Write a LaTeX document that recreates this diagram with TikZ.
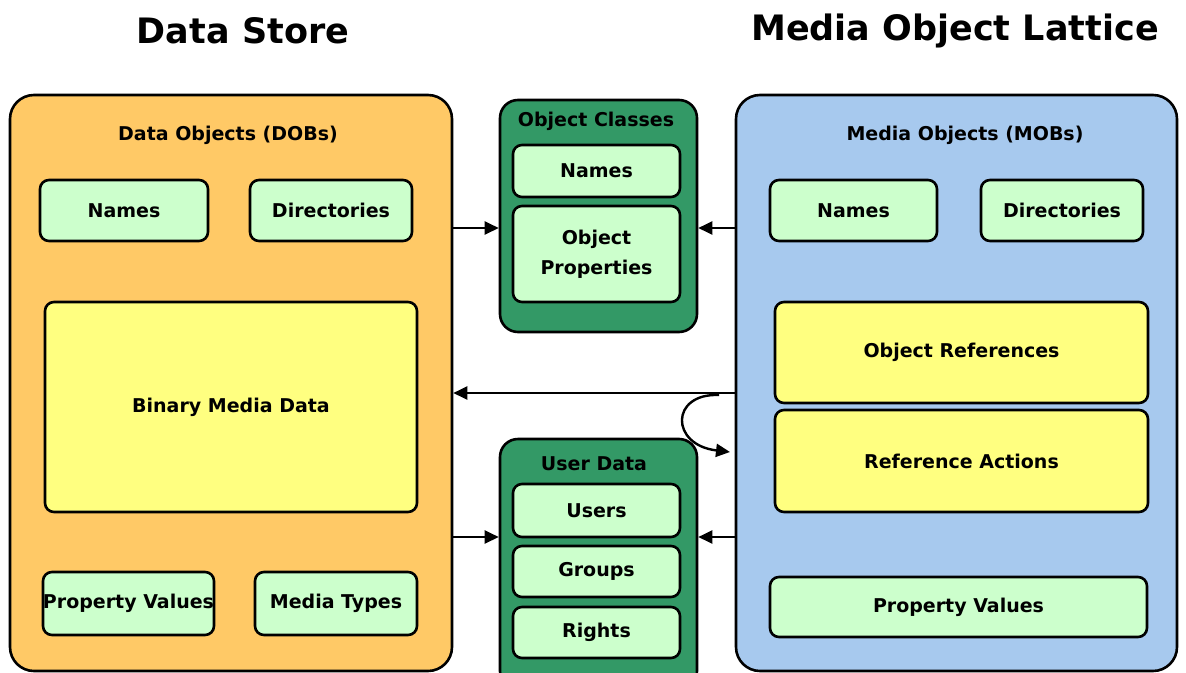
\documentclass[tikz,border=0pt]{standalone}
\usepackage{fontspec}
\setmainfont{DejaVu Sans}
\usetikzlibrary{arrows.meta}
\definecolor{orng}{HTML}{FFC966}
\definecolor{dgrn}{HTML}{339966}
\definecolor{lgrn}{HTML}{CCFFCC}
\definecolor{ylw}{HTML}{FFFF80}
\definecolor{blu}{HTML}{A7C9EE}
\tikzset{
  base/.style={draw=black, line width=2.6pt, rounded corners=9pt, inner sep=0pt, align=center,
    font=\fontsize{19}{30}\selectfont\bfseries},
  outer/.style={base, rounded corners=24pt},
  gbox/.style={base, fill=lgrn},
  ybox/.style={base, fill=ylw},
  lbl/.style={inner sep=0pt, font=\fontsize{19}{24}\selectfont\bfseries},
  ttl/.style={inner sep=0pt, font=\fontsize{35}{40}\selectfont\bfseries},
  arr/.style={line width=2.4pt, -{Triangle[length=14pt,width=13pt]}},
}
\begin{document}
\begin{tikzpicture}[x=1pt,y=-1pt]
\useasboundingbox (0,0) rectangle (1186,672);
% titles
\node[ttl] (t1) at (243,31) {Data Store};
\node[ttl] (t2) at (955,31) {Media Object Lattice};
% outer containers
\node[outer, fill=orng, minimum width=442, minimum height=576] (dob) at (231,383) {};
\node[outer, fill=blu, minimum width=441, minimum height=576] (mob) at (956.5,383) {};
\node[outer, fill=dgrn, rounded corners=18pt, minimum width=197, minimum height=232] (oc) at (598.5,216) {};
\node[outer, fill=dgrn, rounded corners=18pt, minimum width=197, minimum height=250] (ud) at (598.5,564) {};
% container labels
\node[lbl] (dobl) at (228,135) {Data Objects (DOBs)};
\node[lbl] (mobl) at (965,135) {Media Objects (MOBs)};
\node[lbl] (ocl) at (596,121) {Object Classes};
\node[lbl] (udl) at (594,464) {User Data};
% DOB contents
\node[gbox, minimum width=168, minimum height=61] (dn) at (124,210.5) {Names};
\node[gbox, minimum width=162, minimum height=61] (dd) at (331,210.5) {Directories};
\node[ybox, minimum width=372, minimum height=210] (bmd) at (231,407) {Binary Media Data};
\node[gbox, minimum width=167, minimum height=63] (dpv) at (128.5,603.5) {Property Values};
\node[gbox, minimum width=162, minimum height=63] (dmt) at (336,603.5) {Media Types};
% Object classes contents
\node[gbox, minimum width=167, minimum height=52] (ocn) at (596.5,171) {Names};
\node[gbox, minimum width=167, minimum height=96] (ocp) at (596.5,254) {Object\\Properties};
% User data contents
\node[gbox, minimum width=167, minimum height=53] (uu) at (596.5,510.5) {Users};
\node[gbox, minimum width=167, minimum height=51] (ug) at (596.5,571.5) {Groups};
\node[gbox, minimum width=167, minimum height=51] (ur) at (596.5,632.5) {Rights};
% MOB contents
\node[gbox, minimum width=167, minimum height=61] (mn) at (853.5,210.5) {Names};
\node[gbox, minimum width=162, minimum height=61] (md) at (1062,210.5) {Directories};
\node[ybox, minimum width=373, minimum height=101] (mor) at (961.5,352.5) {Object References};
\node[ybox, minimum width=373, minimum height=102] (mra) at (961.5,461) {Reference Actions};
\node[gbox, minimum width=377, minimum height=60] (mpv) at (958.5,607) {Property Values};
% arrows
\draw[arr] (dob.east |- 0,228) -- (oc.west |- 0,228);
\draw[arr] (mob.west |- 0,228) -- (oc.east |- 0,228);
\draw[arr] (mob.west |- 0,393) -- (dob.east |- 0,393);
\draw[arr] (dob.east |- 0,537) -- (ud.west |- 0,537);
\draw[arr] (mob.west |- 0,537) -- (ud.east |- 0,537);
\coordinate (lp0) at (719,395);
\coordinate (lp1) at (730,452);
\draw[arr] (lp0) .. controls (670,393) and (670,445) .. (lp1);
\end{tikzpicture}
\end{document}
